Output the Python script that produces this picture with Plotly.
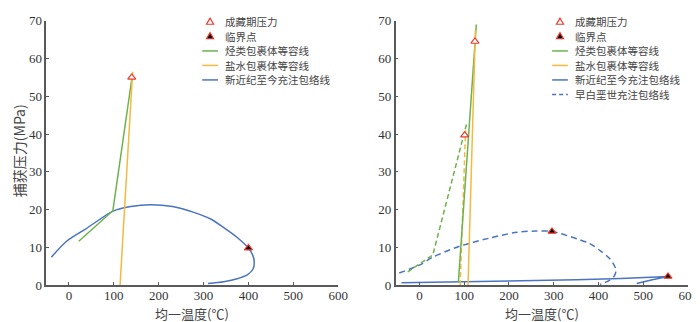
import plotly.graph_objects as go

# ==== data (T in degC, P in MPa) ====
# left panel
l_hc_t = [22, 98, 140]                 # hydrocarbon inclusion isochore
l_hc_p = [11.6, 19.7, 54.5]
l_aq_t = [114, 142]                    # aqueous inclusion isochore
l_aq_p = [0, 56.5]
l_env_t = [-39, -5, 38, 98.5, 138, 181, 231, 280, 316, 345, 375, 400, 410, 413, 410, 398, 375, 345, 310]
l_env_p = [7.4, 11.6, 14.9, 19.6, 20.8, 21.3, 20.8, 19.2, 17.5, 15.2, 12.6, 9.8, 7.8, 6.0, 4.2, 2.8, 1.7, 0.9, 0.4]
l_trap_t = [140]
l_trap_p = [55]
l_crit_t = [400]
l_crit_p = [9.8]

# right panel
r_hc_t = [87, 127]
r_hc_p = [0.8, 69]
r_aq_t = [108.5, 125]
r_aq_p = [0, 67.4]
r_hc_old_t = [-26, 30, 106]
r_hc_old_p = [3.5, 8, 43]
r_aq_old_t = [91, 103]
r_aq_old_p = [0, 41]
r_env_t = [-40, 100, 218, 350, 450, 555, 520, 485]
r_env_p = [0.6, 0.85, 1.07, 1.4, 1.75, 2.3, 1.4, 0.4]
r_env_old_t = [-45, 0, 30, 90, 155, 218, 260, 296, 353, 380, 405, 425, 436, 439, 434, 420, 403]
r_env_old_p = [3.2, 5.3, 7.4, 10.3, 12.4, 14.0, 14.3, 14.2, 12.2, 11, 9, 7, 5, 3.8, 2.2, 1.0, 0.2]
r_trap_t = [124, 101]
r_trap_p = [64.5, 39.7]
r_crit_t = [296, 555]
r_crit_p = [14.2, 2.3]

x_ticks = [0, 100, 200, 300, 400, 500, 600]
y_ticks = [0, 10, 20, 30, 40, 50, 60, 70]

leg_trap = '成藏期压力'
leg_crit = '临界点'
leg_hc = '烃类包裹体等容线'
leg_aq = '盐水包裹体等容线'
leg_new = '新近纪至今充注包络线'
leg_old = '早白垩世充注包络线'
x_title = '均一温度(℃)'
y_title = '捕获压力(MPa)'

# ==== style ====
W, H = 700, 322
c_green = '#6DB24A'
c_orange = '#F4B93E'
c_blue = '#4A74C2'
c_red = '#EE3A2C'
c_axis = '#595959'
serif = 'Liberation Serif'
cjk = 'Noto Sans CJK SC'
leg_size = 10.5
leg_dy = 15.2


def px(x):
    return x / W


def py(y):
    return 1 - y / H


fig = go.Figure()


def add_line(x, y, col, xa, ya, dash='solid', shape='linear'):
    fig.add_trace(go.Scatter(x=x, y=y, mode='lines', xaxis=xa, yaxis=ya,
                             line=dict(color=col, width=1.5, dash=dash, shape=shape, smoothing=0.8),
                             showlegend=False, hoverinfo='skip'))


def add_tri(x, y, xa, ya, fill):
    fig.add_trace(go.Scatter(x=x, y=y, mode='markers', xaxis=xa, yaxis=ya, cliponaxis=False,
                             marker=dict(symbol='triangle-up', size=7, color=fill,
                                         line=dict(color=c_red, width=1.2)),
                             showlegend=False, hoverinfo='skip'))


# left
add_line(l_env_t, l_env_p, c_blue, 'x', 'y', shape='spline')
add_line(l_hc_t, l_hc_p, c_green, 'x', 'y')
add_line(l_aq_t, l_aq_p, c_orange, 'x', 'y')
add_tri(l_trap_t, l_trap_p, 'x', 'y', 'white')
add_tri(l_crit_t, l_crit_p, 'x', 'y', 'black')

# right
add_line(r_env_t, r_env_p, c_blue, 'x2', 'y2')
add_line(r_env_old_t, r_env_old_p, c_blue, 'x2', 'y2', dash='6px,4px', shape='spline')
add_line(r_hc_old_t, r_hc_old_p, c_green, 'x2', 'y2', dash='5px,3px')
add_line(r_aq_old_t, r_aq_old_p, c_orange, 'x2', 'y2', dash='5px,3px')
add_line(r_hc_t, r_hc_p, c_green, 'x2', 'y2')
add_line(r_aq_t, r_aq_p, c_orange, 'x2', 'y2')
add_tri(r_trap_t, r_trap_p, 'x2', 'y2', 'white')
add_tri(r_crit_t, r_crit_p, 'x2', 'y2', 'black')

# axes
ax = dict(showline=True, linecolor=c_axis, linewidth=1.5, ticks='inside', ticklen=3,
          tickcolor=c_axis, tickwidth=1, showgrid=False, zeroline=False,
          ticklabeloverflow='allow',
          tickfont=dict(family=serif, size=13, color='#333333'), fixedrange=True)
ydom = [py(283.3), py(6)]
fig.update_layout(
    xaxis=dict(ax, domain=[px(39), px(335)], range=[-50, 600], tickvals=x_ticks, anchor='y',
               ticklabelstandoff=-2),
    yaxis=dict(ax, domain=ydom, range=[0, 70], tickvals=y_ticks, anchor='x'),
    xaxis2=dict(ax, domain=[px(393.3), px(690)], range=[-53, 600], tickvals=x_ticks, anchor='y2',
                ticklabelstandoff=-2),
    yaxis2=dict(ax, domain=ydom, range=[0, 70], tickvals=y_ticks, anchor='x2'),
)

# titles
ann = []
for cx in (187, 541.5):
    ann.append(dict(text=x_title, x=px(cx), y=py(313), xref='paper', yref='paper',
                    xanchor='center', yanchor='middle',
                    showarrow=False, font=dict(family=cjk, size=13, color='#444444')))
ann.append(dict(text=y_title, x=px(12), y=py(142), xref='paper', yref='paper', textangle=-90,
                xanchor='center', yanchor='middle',
                showarrow=False, font=dict(family=cjk, size=14, color='#444444')))

# hand-drawn legends (tight row spacing like the original)
shapes = []


def legend(cx, y0, items):
    for i, (kind, label) in enumerate(items):
        y = y0 + i * leg_dy
        if kind in ('open', 'filled'):
            pts = [(cx, y - 4), (cx - 3.6, y + 2.4), (cx + 3.6, y + 2.4)]
            path = 'M ' + ' L '.join(f'{px(a):.5f},{py(b):.5f}' for a, b in pts) + ' Z'
            shapes.append(dict(type='path', path=path, xref='paper', yref='paper',
                               fillcolor='white' if kind == 'open' else 'black',
                               line=dict(color=c_red, width=1.2)))
        else:
            col, dash = kind
            shapes.append(dict(type='line', xref='paper', yref='paper',
                               x0=px(cx - 8), x1=px(cx + 8), y0=py(y), y1=py(y),
                               line=dict(color=col, width=1.5, dash=dash)))
        ann.append(dict(text=label, x=px(cx + 13), y=py(y), xref='paper', yref='paper',
                        xanchor='left', yanchor='middle', showarrow=False,
                        font=dict(family=cjk, size=leg_size, color='#444444')))


legend(205, 7.3, [('open', leg_trap), ('filled', leg_crit),
                  ((c_green, 'solid'), leg_hc), ((c_orange, 'solid'), leg_aq),
                  ((c_blue, 'solid'), leg_new)])
legend(560, 7.3, [('open', leg_trap), ('filled', leg_crit),
                  ((c_green, 'solid'), leg_hc), ((c_orange, 'solid'), leg_aq),
                  ((c_blue, 'solid'), leg_new), ((c_blue, '4px,3px'), leg_old)])

fig.update_layout(
    width=W, height=H,
    margin=dict(l=0, r=0, t=0, b=0),
    paper_bgcolor='white', plot_bgcolor='white',
    showlegend=False,
    annotations=ann, shapes=shapes,
)

fig.write_html('out.html')
